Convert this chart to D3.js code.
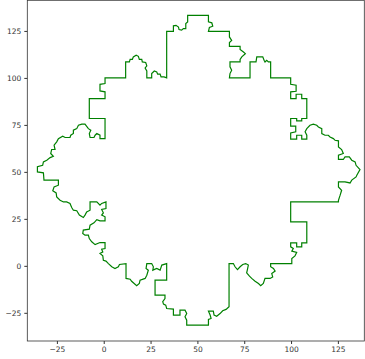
<!DOCTYPE html>
<html>
<head>
<meta charset="utf-8">
<script src="https://cdn.jsdelivr.net/npm/d3@7"></script>
<style>
  body { margin: 0; background: #fff; }
  svg { display: block; }
  .tick text { font-family: "DejaVu Sans", sans-serif; font-size: 7.5px; fill: #333; }
</style>
</head>
<body>
<svg id="chart" width="365" height="359"></svg>
<script>
// outline of the island, split in four runs (clockwise)
const topEdge = [
  [0.7,100],[11.7,100],[11.7,108.5],[13.7,108.5],[14.1,109.9],[15.3,109.9],[15.8,111.2],[17.3,112.1],[18.5,111.5],[19.0,109.9],[20.3,109.9],[20.6,108.5],[22.4,108.2],[23.0,106.4],[22.1,105.3],[23.0,103.7],[23.0,100],[25.6,100],[25.6,102.3],[27.0,103.7],[28.3,103.2],[28.8,102.0],[30.1,102.0],[30.6,100.5],[32.2,100.5],[33.6,100],
  [33.6,124.8],[37.2,124.8],[37.2,127.7],[38.6,128.0],[39.9,127.1],[40.2,125.7],[41.6,125.4],[42.5,126.2],[43.8,126.2],[43.8,128.9],[44.8,129.8],[44.8,133.3],[55.9,133.3],[55.9,129.8],[57.7,129.3],[58.2,127.5],[56.4,126.8],[55.9,124.8],[67.1,124.8],[67.1,121.8],[68.3,120.0],[67.1,118.8],[67.1,116.8],[72.8,116.8],[72.8,115.1],[74.6,113.8],[75.6,112.9],[73.7,111.2],[72.8,109.8],[72.8,108.5],[67.4,108.5],[67.4,105.9],[68.3,104.1],[67.4,102.3],[67.1,100],
  [78.1,100],[78.1,108.5],[81.3,108.5],[81.7,111.2],[84.9,111.2],[85.6,109.4],[86.1,108.5],[87.0,109.4],[87.9,108.5],[89.1,108.5],[89.1,100],[99.8,100]
];
const rightEdge = [
  [99.8,96.6],[102.7,96.1],[102.7,92.9],[99.8,92.6],[99.8,89.0],[102.7,89.0],[102.7,91.3],[105.7,91.3],[105.7,89.0],[108.4,89.0],[108.4,78.4],[105.7,78.4],[105.7,77.1],[103.0,77.1],[103.0,78.4],[99.8,78.4],[99.8,74.3],[102.5,74.3],[102.5,71.3],[99.8,70.7],[99.8,67.4],[103.0,67.4],[103.0,69.5],[105.7,69.5],[105.7,67.4],[108.4,67.4],
  [108.4,69.5],[107.5,71.3],[108.4,73.0],[110.1,74.8],[111.9,75.4],[113.7,74.8],[114.6,73.9],[116.4,73.0],[116.4,70.4],[118.1,69.5],[119.9,69.5],[120.8,68.6],[122.6,67.7],[123.5,66.8],[125.3,66.5],[125.3,63.3],[127.0,61.9],[127.9,59.8],[125.3,58.9],[125.3,56.6],[127.9,56.6],[128.8,58.0],[131.1,58.0],[132.4,56.2],[134.2,55.3],[134.7,53.5],[136.8,51.2],[135.1,48.2],[134.7,47.3],[132.4,45.6],[131.5,44.1],[128.8,44.7],[125.3,44.7],[125.3,42.0],[127.0,40.2],[126.2,37.6],[125.3,34.9],[125.3,34.0],
  [99.8,34.0],[99.8,23.4],[108.4,23.4],[108.4,12.2],[105.7,12.2],[105.7,10.1],[103.0,10.1],[103.0,12.2],[99.8,12.2],[99.8,10.1],[101.2,9.2],[100.4,7.8],[103.0,7.1],[102.1,5.3],[100.4,3.9],[100.4,1.2],[89.1,1.2]
];
const bottomEdge = [
  [89.1,-0.5],[90.6,-1.4],[91.5,-2.8],[89.7,-4.1],[90.2,-5.9],[88.8,-6.7],[86.1,-6.7],[85.2,-9.4],[83.8,-10.6],[82.6,-9.4],[80.8,-8.2],[79.0,-6.7],[77.8,-5.5],[76.3,-3.7],[76.7,-2.0],[77.2,0.4],[75.8,1.2],[74.2,0.7],[72.8,-0.5],[71.4,-2.0],[70.1,-0.5],[69.2,1.2],[66.9,1.2],
  [66.9,-21.8],[65.3,-23.2],[63.5,-23.9],[62.1,-25.4],[60.3,-26.8],[58.9,-26.2],[58.5,-24.1],[55.9,-24.1],[56.8,-26.2],[57.3,-28.0],[55.9,-28.5],[55.9,-31.6],[44.3,-31.6],[44.3,-28.9],[43.4,-27.1],[44.3,-25.4],[43.4,-23.6],[40.7,-23.6],[40.7,-26.2],[37.2,-26.2],[37.2,-23.0],[33.6,-22.7],[33.1,-20.9],[31.9,-20.4],[31.5,-19.1],[32.7,-17.4],[32.7,-15.6],[27.4,-15.6],[27.4,-7.6],[33.6,-7.6],[33.6,1.2],
  [31.0,0.4],[30.1,-2.3],[28.3,-1.4],[26.2,-2.3],[26.5,-0.5],[25.6,1.2],[23.0,1.2],[22.6,-1.4],[23.8,-2.3],[23.0,-5.0],[22.1,-6.7],[19.4,-7.6],[19.0,-9.4],[17.6,-10.6],[14.9,-8.2],[14.1,-7.1],[11.9,-6.7],[11.9,1.2]
];
const leftEdge = [
  [8.4,0.7],[7.8,-0.5],[6.0,-1.4],[4.3,-0.5],[2.5,1.2],[1.2,2.5],[-0.2,3.0],[-0.5,5.3],[-2.0,6.6],[-0.5,7.4],[-1.1,8.9],[0.7,9.2],[0.7,12.4],[-2.0,12.4],[-4.6,11.3],[-6.4,12.8],[-7.7,14.5],[-8.2,16.3],[-10.0,16.3],[-11.2,17.2],[-10.9,19.0],[-7.7,19.5],[-7.3,21.6],[-5.2,22.9],[-3.7,24.6],[-2.0,23.9],[0.7,23.9],[0.7,26.1],[-1.1,27.0],[-0.2,28.2],[-1.1,30.0],[1.2,30.5],[1.2,34.0],
  [-1.1,33.2],[-2.0,32.3],[-3.7,34.0],[-7.3,34.0],[-7.3,29.6],[-9.1,28.7],[-10.0,27.0],[-10.9,25.7],[-13.0,27.0],[-14.4,29.3],[-16.2,29.6],[-17.1,31.0],[-18.0,33.2],[-19.8,34.0],[-21.5,34.0],[-23.3,34.9],[-25.1,36.7],[-25.4,38.8],[-27.2,39.9],[-26.5,42.0],[-24.2,42.9],[-24.2,45.6],[-31.9,45.6],[-32.2,49.5],[-35.4,50.0],[-35.4,52.7],[-32.6,53.5],[-32.2,55.3],[-30.4,56.2],[-28.6,57.6],[-26.9,58.3],[-28.3,59.8],[-27.8,61.9],[-26.0,61.9],[-26.5,64.2],[-25.1,66.0],[-24.2,67.7],[-21.9,69.0],[-20.6,68.3],[-18.0,68.3],[-17.6,69.5],[-16.2,70.4],[-16.2,72.2],[-14.4,73.0],[-13.5,74.8],[-11.7,75.4],[-10.0,75.4],[-8.2,73.0],[-6.9,72.2],[-7.7,70.4],[-7.3,68.3],[-5.2,68.3],[-4.6,69.5],[-3.7,70.4],[-2.0,69.5],[-2.0,67.7],[0.7,67.7],
  [0.7,78.4],[-7.7,78.4],[-7.7,89.0],[0.7,89.0],[0.7,92.6],[-2.0,93.1],[-2.0,96.6],[0.7,97.0],[0.7,100]
];
const xTicks = [-25, 0, 25, 50, 75, 100, 125];
const yTicks = [-25, 0, 25, 50, 75, 100, 125];

const svg = d3.select('#chart');
const width = +svg.attr('width');
const height = +svg.attr('height');

const x = d3.scaleLinear().domain([-40.8, 139.1]).range([27.3, 364.3]);
const y = d3.scaleLinear().domain([-40, 141.3]).range([341, 0.3]);

const fmt = d => d < 0 ? '\u2212' + Math.abs(d) : String(d);

const outline = topEdge.concat(rightEdge, bottomEdge, leftEdge);

svg.append('path')
  .datum(outline)
  .attr('fill', 'none')
  .attr('stroke', '#008000')
  .attr('stroke-width', 1.2)
  .attr('stroke-linejoin', 'miter')
  .attr('d', d3.line().x(d => x(d[0])).y(d => y(d[1])).curve(d3.curveLinearClosed));

// axes
svg.append('g')
  .attr('transform', `translate(0,${y.range()[0]})`)
  .call(d3.axisBottom(x).tickValues(xTicks).tickFormat(fmt).tickSize(3).tickPadding(3))
  .call(g => g.select('.domain').remove())
  .call(g => g.selectAll('line').attr('stroke', '#333'));

svg.append('g')
  .attr('transform', `translate(${x.range()[0]},0)`)
  .call(d3.axisLeft(y).tickValues(yTicks).tickFormat(fmt).tickSize(3).tickPadding(3))
  .call(g => g.select('.domain').remove())
  .call(g => g.selectAll('line').attr('stroke', '#333'));

// frame
svg.append('rect')
  .attr('x', x.range()[0])
  .attr('y', y.range()[1])
  .attr('width', x.range()[1] - x.range()[0])
  .attr('height', y.range()[0] - y.range()[1])
  .attr('fill', 'none')
  .attr('stroke', '#333')
  .attr('stroke-width', 0.8);
</script>
</body>
</html>
